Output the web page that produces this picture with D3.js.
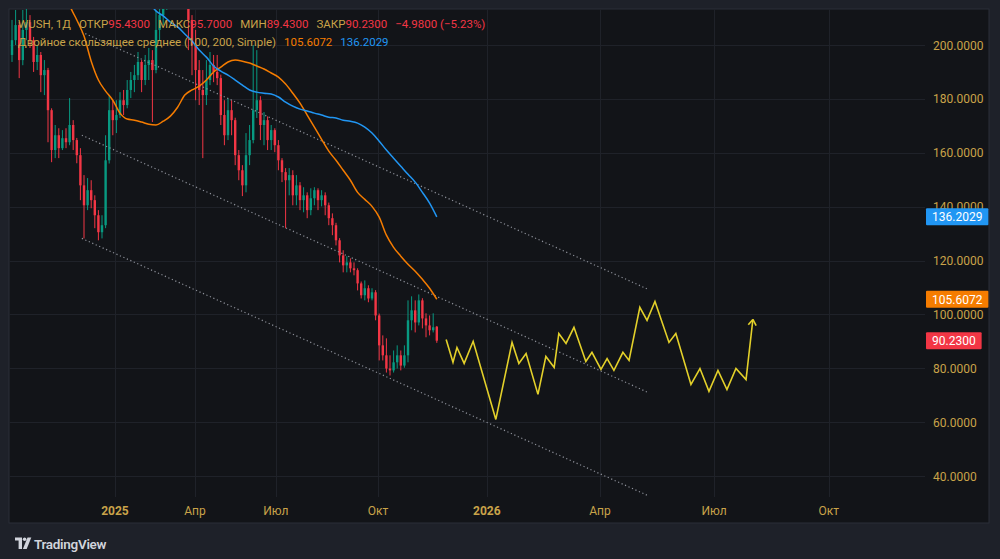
<!DOCTYPE html>
<html>
<head>
<meta charset="utf-8">
<script src="https://cdn.jsdelivr.net/npm/d3@7"></script>
<style>
  body{margin:0;background:#1e2129;}
  svg{display:block;font-family:Roboto,"Noto Sans",sans-serif;}
</style>
</head>
<body>
<svg id="chart"></svg>
<script>
// daily candles, one slot = one candle index
const opens=[196.3,201.8,207.4,194.4,205.6,208.5,201.8,193.7,196.3,188.8,
 190.7,175.8,161.0,166.5,161.7,165.4,163.9,170.3,164.7,159.1,
 147.9,140.5,146.1,142.4,136.8,130.5,133.1,157.2,175.8,172.1,
 174.0,179.5,177.7,183.3,187.0,188.8,193.7,187.0,192.6,194.4,
 190.7,205.6,211.1,214.9,220.4,226.0,227.9,224.1,222.3,218.6,
 209.3,200.0,190.7,183.3,181.4,187.0,192.6,190.0,187.7,174.0,
 166.5,175.8,172.1,159.1,153.5,147.9,159.1,164.7,175.8,179.5,
 170.3,172.1,164.7,168.4,162.8,157.2,152.8,149.8,151.7,144.2,
 147.9,142.4,144.2,138.7,143.1,146.1,142.4,144.2,140.5,135.7,
 133.1,127.5,121.9,118.2,119.3,117.1,116.4,111.5,107.1,109.7,
 105.9,108.2,99.6,88.5,84.8,79.9,79.2,82.2,84.8,81.0,
 84.8,97.8,101.5,97.0,105.2,98.5,95.9,94.1,95.43];
const closes=[201.8,207.4,194.4,205.6,208.5,201.8,193.7,196.3,188.8,190.7,
 175.8,161.0,166.5,161.7,165.4,163.9,170.3,164.7,159.1,147.9,
 140.5,146.1,142.4,136.8,130.5,133.1,157.2,175.8,172.1,174.0,
 179.5,177.7,183.3,187.0,188.8,193.7,187.0,192.6,194.4,190.7,
 205.6,211.1,214.9,220.4,226.0,227.9,224.1,222.3,218.6,209.3,
 200.0,190.7,183.3,181.4,187.0,192.6,190.0,187.7,174.0,166.5,
 175.8,172.1,159.1,153.5,147.9,159.1,164.7,175.8,179.5,170.3,
 172.1,164.7,168.4,162.8,157.2,152.8,149.8,151.7,144.2,147.9,
 142.4,144.2,138.7,143.1,146.1,142.4,144.2,140.5,135.7,133.1,
 127.5,121.9,118.2,119.3,117.1,116.4,111.5,107.1,109.7,105.9,
 108.2,99.6,88.5,84.8,79.9,79.2,82.2,84.8,81.0,84.8,
 97.8,101.5,97.0,105.2,98.5,95.9,94.1,95.21,90.23];
const highs=[209.3,213.0,208.5,213.0,213.7,211.1,203.0,200.0,197.4,194.4,
 191.5,176.5,170.3,169.1,168.4,169.1,180.3,172.1,165.5,161.7,
 151.7,150.6,149.8,144.2,138.7,136.8,166.5,181.4,179.5,179.5,
 182.5,183.3,187.0,190.0,192.6,197.4,194.4,196.3,198.9,198.1,
 213.0,214.9,218.6,224.1,231.6,233.4,229.7,227.9,224.1,220.0,
 211.1,205.6,194.4,190.7,194.4,197.4,196.3,196.3,189.0,179.5,
 180.3,179.5,173.0,161.0,155.4,167.3,170.3,200.0,198.1,181.0,
 175.1,173.5,170.3,169.1,164.7,158.0,154.3,154.3,153.5,151.7,
 149.1,147.2,145.3,146.8,147.2,146.8,146.1,145.3,141.5,137.5,
 134.0,128.3,123.8,121.6,120.8,119.3,117.1,112.2,112.6,110.8,
 109.7,109.0,100.3,92.2,91.1,84.8,86.6,88.5,86.6,88.5,
 105.2,106.7,105.2,107.4,106.0,100.4,99.6,100.4,95.70];
const lows=[193.7,200.0,187.7,192.5,201.8,198.9,190.0,190.7,182.5,181.4,
 163.9,156.5,158.0,158.0,161.0,161.7,162.8,161.0,156.1,142.4,
 128.2,138.7,139.4,132.0,127.5,128.2,132.0,156.0,166.5,167.3,
 172.9,174.0,176.5,180.3,182.5,187.0,182.5,185.1,187.0,171.4,
 189.5,201.8,207.4,213.0,218.6,222.3,218.6,216.7,213.7,198.1,
 188.8,179.5,177.7,158.0,177.7,185.1,186.2,185.1,170.3,162.8,
 164.7,166.5,155.4,149.8,143.9,145.3,155.4,163.5,172.9,164.7,
 162.8,161.0,161.0,160.2,153.5,149.1,132.0,144.2,140.5,140.5,
 138.7,137.9,135.7,136.8,140.5,138.7,140.1,136.8,133.1,129.4,
 125.6,119.3,115.6,115.6,115.6,114.5,108.9,105.9,105.2,104.5,
 105.2,97.8,82.9,82.9,78.4,77.3,78.4,79.9,79.2,80.2,
 82.2,94.1,93.3,95.9,94.8,91.5,92.2,93.3,89.43];

// moving averages, every second candle
const ma100Start=14;
const ma100=[224.1,214.9,209.3,203.3,194.0,187.0,182.9,179.5,174.7,172.5,
 172.1,171.4,170.6,170.3,171.7,173.6,176.9,181.4,183.3,184.7,
 187.0,190.0,191.8,193.7,194.4,194.0,193.3,192.2,191.1,189.6,
 188.1,185.5,182.1,178.4,174.0,169.5,165.0,160.6,157.2,153.5,
 149.8,145.3,142.7,140.1,136.1,129.4,124.9,121.6,118.6,116.0,
 113.0,109.7,105.6072];
const ma200Start=36;
const ma200=[218.6,216.0,212.6,210.8,208.5,206.7,204.1,201.5,198.1,195.5,
 192.2,190.3,188.8,187.0,185.1,183.3,182.5,182.1,181.8,180.7,
 178.8,177.3,176.2,175.5,174.7,174.0,173.2,172.9,172.1,171.7,
 171.0,169.5,167.3,164.3,161.0,158.0,155.0,152.0,149.1,145.3,
 141.3,136.2029];

// parallel channel
const chanIdx=[19.4,176.7];
const chanStart=[204.8,166.5,128.2];
const chanEnd=[109.3,71.0,32.7];

// projected path
const projIdx=[120.6,122.5,123.6,125.6,128.1,134.4,138.9,140.8,142.8,146.1,
 148.3,150.6,151.9,153.9,156.1,159.4,161.1,163.6,165.3,167.2,
 169.7,171.4,174.4,176.4,178.6,182.5,184.4,188.6,191.1,193.6,
 196.1,198.6,201.1,203.9,205.8];
const projVal=[90.7,82.2,87.7,81.8,90.0,61.0,89.6,81.8,85.5,70.3,
 84.4,80.3,92.9,89.2,95.2,82.5,85.9,79.6,83.6,79.2,
 85.9,82.9,102.6,97.8,104.8,89.6,92.9,74.0,79.9,71.4,
 79.2,72.1,79.9,75.8,98.1];

const timeTickIdx=[28.6,50.8,73.3,101.7,131.9,163.3,195.0,226.9];
const timeTickLabels=["2025","Апр","Июл","Окт","2026","Апр","Июл","Окт"];
const priceTicks=[40,60,80,100,120,140,160,180,200];

const width=1000,height=559;
const plotL=9,plotT=9,plotR=925,plotB=497;
const gold="#c9a349",red="#f23645",orange="#f57c00",blue="#2196f3";

const svg=d3.select("#chart").attr("width",width).attr("height",height);
svg.append("rect").attr("width",width).attr("height",height).attr("fill","#1e2129");
svg.append("rect").attr("x",9).attr("y",9).attr("width",980).attr("height",514)
   .attr("fill","#121418").attr("stroke","#2a2e38");

const x=d3.scaleLinear().domain([0,100]).range([12,372]);
const y=d3.scaleLinear().domain([40,200]).range([476,45]);

svg.append("clipPath").attr("id","plotclip").append("rect")
   .attr("x",plotL).attr("y",plotT).attr("width",plotR-plotL).attr("height",plotB-plotT);

// grid
const grid=svg.append("g").attr("stroke","#1f2229").attr("stroke-width",1);
grid.selectAll(".v").data(timeTickIdx).enter().append("line")
   .attr("x1",d=>Math.round(x(d))+0.5).attr("x2",d=>Math.round(x(d))+0.5)
   .attr("y1",plotT).attr("y2",plotB);
grid.selectAll(".h").data(priceTicks).enter().append("line")
   .attr("x1",plotL).attr("x2",plotR)
   .attr("y1",d=>Math.round(y(d))+0.5).attr("y2",d=>Math.round(y(d))+0.5);

const plotG=svg.append("g").attr("clip-path","url(#plotclip)");

// candles
const candles=closes.map((c,i)=>({i:i,o:opens[i],h:highs[i],l:lows[i],c:c}));
const cg=plotG.selectAll(".candle").data(candles).enter().append("g");
cg.append("line")
   .attr("x1",d=>x(d.i)).attr("x2",d=>x(d.i))
   .attr("y1",d=>y(d.h)).attr("y2",d=>y(d.l))
   .attr("stroke",d=>d.c>=d.o?"#089981":red).attr("stroke-width",1);
cg.append("rect")
   .attr("x",d=>x(d.i)-1.2).attr("width",2.4)
   .attr("y",d=>y(Math.max(d.o,d.c)))
   .attr("height",d=>Math.max(1,Math.abs(y(d.o)-y(d.c))))
   .attr("fill",d=>d.c>=d.o?"#089981":red);

// channel
chanStart.forEach((s,k)=>{
  plotG.append("line")
    .attr("x1",x(chanIdx[0])).attr("y1",y(s))
    .attr("x2",x(chanIdx[1])).attr("y2",y(chanEnd[k]))
    .attr("stroke","#8d9099").attr("stroke-width",1.2)
    .attr("stroke-dasharray","1.2,2.6");
});

// moving averages
const maLine=d3.line().curve(d3.curveMonotoneX);
plotG.append("path")
   .attr("d",maLine(ma100.map((v,k)=>[x(ma100Start+2*k),y(v)])))
   .attr("fill","none").attr("stroke",orange).attr("stroke-width",1.5);
plotG.append("path")
   .attr("d",maLine(ma200.map((v,k)=>[x(ma200Start+2*k),y(v)])))
   .attr("fill","none").attr("stroke",blue).attr("stroke-width",1.5);

// projection
const proj=projIdx.map((d,k)=>[x(d),y(projVal[k])]);
plotG.append("path").attr("d",d3.line()(proj))
   .attr("fill","none").attr("stroke","#e3d02a").attr("stroke-width",1.6)
   .attr("stroke-linejoin","miter");
const pa=proj[proj.length-2],pb=proj[proj.length-1];
const ang=Math.atan2(pb[1]-pa[1],pb[0]-pa[0]);
[ang+Math.PI-0.6,ang+Math.PI+0.6].forEach(a=>{
  plotG.append("line").attr("x1",pb[0]).attr("y1",pb[1])
    .attr("x2",pb[0]+7*Math.cos(a)).attr("y2",pb[1]+7*Math.sin(a))
    .attr("stroke","#e3d02a").attr("stroke-width",1.6);
});

// price axis
svg.append("g").selectAll("text").data(priceTicks).enter().append("text")
   .attr("x",933).attr("y",d=>y(d)+4.5)
   .attr("fill",gold).attr("font-size",12)
   .text(d=>d.toFixed(4));

// time axis
svg.append("g").selectAll("text").data(timeTickIdx).enter().append("text")
   .attr("x",d=>x(d)).attr("y",515).attr("text-anchor","middle")
   .attr("fill",gold).attr("font-size",12)
   .attr("font-weight",(d,i)=>/^\d+$/.test(timeTickLabels[i])?700:400)
   .text((d,i)=>timeTickLabels[i]);

// last value tags
const last=closes.length-1;
const tags=[
  {v:ma200[ma200.length-1],c:blue},
  {v:ma100[ma100.length-1],c:orange},
  {v:closes[last],c:red}
];
tags.forEach(t=>{
  const g=svg.append("g");
  const txt=g.append("text").attr("x",932).attr("y",y(t.v)+4.5)
    .attr("fill","#ffffff").attr("font-size",12).text(t.v.toFixed(4));
  const w=txt.node().getComputedTextLength();
  g.insert("rect","text").attr("x",926).attr("y",y(t.v)-8.5)
    .attr("width",w+12).attr("height",17).attr("rx",1).attr("fill",t.c);
});

// legend, laid out piece by piece
const chg=closes[last]-closes[last-1];
const pct=chg/closes[last-1]*100;
const legend1=[
  {t:"WUSH, 1Д",c:gold,gap:8},
  {t:"ОТКР",c:gold,gap:0},{t:opens[last].toFixed(4),c:red,gap:8},
  {t:"МАКС",c:gold,gap:0},{t:highs[last].toFixed(4),c:red,gap:8},
  {t:"МИН",c:gold,gap:0},{t:lows[last].toFixed(4),c:red,gap:8},
  {t:"ЗАКР",c:gold,gap:0},{t:closes[last].toFixed(4),c:red,gap:8},
  {t:(chg<0?"\u2212":"")+Math.abs(chg).toFixed(4)+" ("+(pct<0?"\u2212":"")+Math.abs(pct).toFixed(2)+"%)",c:red,gap:0}
];
const legend2=[
  {t:"Двойное скользящее среднее (100, 200, Simple)",c:gold,gap:8},
  {t:ma100[ma100.length-1].toFixed(4),c:orange,gap:8},
  {t:ma200[ma200.length-1].toFixed(4),c:blue,gap:0}
];
function layoutLegend(items,yy){
  const g=svg.append("g").attr("font-size",11.5);
  let cx=18;
  items.forEach(d=>{
    const t=g.append("text").attr("x",cx).attr("y",yy).attr("fill",d.c).text(d.t);
    cx+=t.node().getComputedTextLength()+d.gap;
  });
}
layoutLegend(legend1,28);
layoutLegend(legend2,46);

// footer logo
const logo=svg.append("g").attr("fill","#d1d4dc");
logo.append("path").attr("d","M15,537.5h7v11.5h-3.4v-8.4h-3.6z");
logo.append("circle").attr("cx",24.6).attr("cy",539.3).attr("r",1.8);
logo.append("path").attr("d","M27.5,537.5h3.8l-4.6,11.5h-3.8z");
svg.append("text").attr("x",34).attr("y",548.5).attr("fill","#d1d4dc")
   .attr("font-size",13.5).attr("font-weight",600).attr("letter-spacing",-0.3)
   .text("TradingView");
</script>
</body>
</html>
